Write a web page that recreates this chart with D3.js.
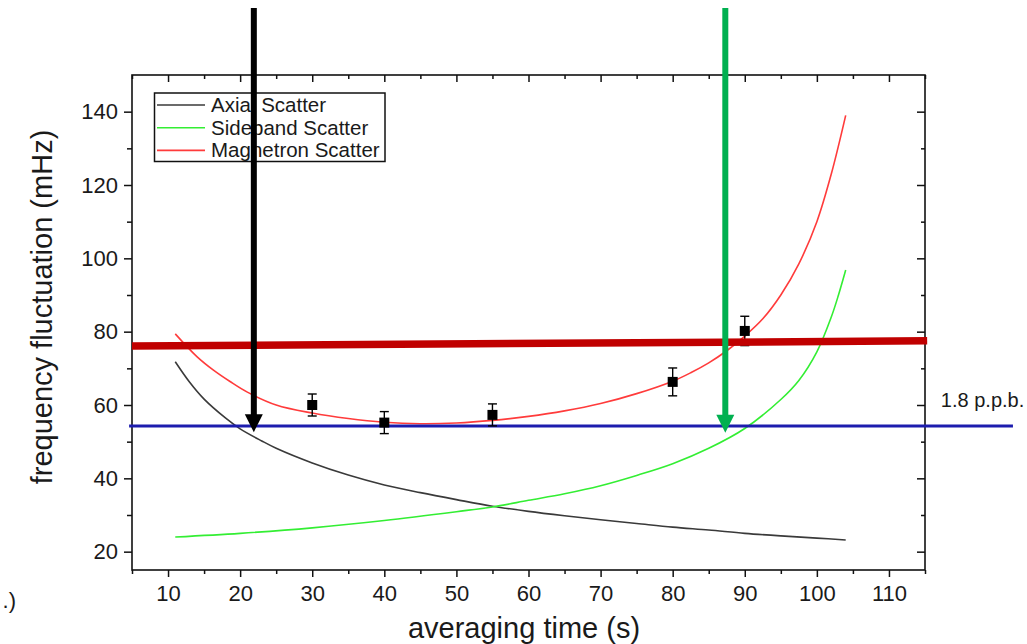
<!DOCTYPE html>
<html><head><meta charset="utf-8">
<script src="https://cdn.jsdelivr.net/npm/d3@7"></script>
<style>
body{margin:0;background:#fff}
svg{display:block}
text{font-family:"Liberation Sans",Arial,sans-serif;fill:#1a1a1a}
</style>
</head><body>
<svg id="chart" width="1027" height="644"></svg>
<script>
// ---------- data ----------
const axialT = [11, 13, 15, 18, 20, 23, 25, 30, 35, 40, 45, 50, 55, 60, 65, 70, 75, 80, 85, 90, 95, 100, 104];
const axialV = [71.8, 66.2, 61.6, 56.4, 53.5, 50.2, 48.2, 44.2, 40.9, 38.2, 36.1, 34.2, 32.4, 31, 29.8, 28.7, 27.7, 26.7, 25.9, 25, 24.3, 23.7, 23.2];

const sideT = [11, 20, 30, 40, 50, 55, 60, 65, 70, 75, 80, 85, 90, 95, 97.5, 100, 102, 103, 104];
const sideV = [24, 25, 26.5, 28.5, 30.9, 32.2, 34, 35.8, 38, 40.8, 44, 48.2, 53.6, 61.5, 66.7, 74.5, 84, 90, 96.8];

const magT = [11, 14, 16.3, 18.6, 21, 25, 30, 35, 40, 45, 50, 55, 60, 65, 70, 75, 80, 82.5, 85, 87.5, 90, 92.5, 95, 97.5, 100, 102, 104];
const magV = [79.4, 73.2, 69.5, 66.4, 63.5, 60, 57.8, 56.3, 55.3, 54.9, 55.1, 55.8, 56.9, 58.4, 60.4, 63.1, 66.5, 68.8, 71.5, 74.8, 78.8, 83.5, 90, 98.5, 110, 123, 139];

const pointT = [30, 40, 55, 80, 90];
const pointV = [60, 55.2, 57.3, 66.3, 80.2];
const pointErr = [3, 3, 3, 3.8, 4];

const seriesNames = ["Axial Scatter", "Sideband Scatter", "Magnetron Scatter"];
const seriesColors = ["#3a3a3a", "#33ee33", "#ff3b3b"];

const xMajorTicks = [10, 20, 30, 40, 50, 60, 70, 80, 90, 100, 110];
const xMinorTicks = [5, 15, 25, 35, 45, 55, 65, 75, 85, 95, 105, 115];
const yMajorTicks = [20, 40, 60, 80, 100, 120, 140];
const yMinorTicks = [30, 50, 70, 90, 110, 130];

// annotation lines (data units)
const thickLineT = [5, 115.3];
const thickLineV = [76.1, 77.5];
const blueLineT = [4.6, 127.2];
const blueLineV = [54.3, 54.3];
const ppbLabel = "1.8 p.p.b.";
const ppbPos = [117.2, 59.5];
const arrowT = [21.9, 87.3];
const arrowTop = [168.3, 168.3];
const arrowTip = [52.6, 52.4];
const arrowColors = ["#000000", "#00b050"];

// ---------- layout ----------
const svg = d3.select("#chart");
const mLeft = 132, mRight = 925, mTop = 75, mBottom = 570;
const x = d3.scaleLinear().domain([5, 115]).range([mLeft, mRight]);
const y = d3.scaleLinear().domain([15, 150]).range([mBottom, mTop]);

// ---------- axes ----------
const axisG = svg.append("g");
function styleAxis(g){
  g.select(".domain").remove();
  g.selectAll(".tick line").attr("stroke", "#111").attr("stroke-width", 1.5);
}
const FONT = '"Liberation Sans",Arial,sans-serif';
// bottom
axisG.append("g").attr("transform", `translate(0,${mBottom})`)
  .call(d3.axisBottom(x).tickValues(xMajorTicks).tickSize(7).tickPadding(8).tickFormat(d3.format("d")))
  .call(styleAxis)
  .call(g => g.selectAll("text").attr("font-size", 22).attr("font-family", FONT).attr("fill", "#1a1a1a"));
axisG.append("g").attr("transform", `translate(0,${mBottom})`)
  .call(d3.axisBottom(x).tickValues(xMinorTicks).tickSize(4).tickFormat(""))
  .call(styleAxis);
// top (inward)
axisG.append("g").attr("transform", `translate(0,${mTop})`)
  .call(d3.axisBottom(x).tickValues(xMajorTicks).tickSize(7).tickFormat(""))
  .call(styleAxis);
axisG.append("g").attr("transform", `translate(0,${mTop})`)
  .call(d3.axisBottom(x).tickValues(xMinorTicks).tickSize(4).tickFormat(""))
  .call(styleAxis);
// left
axisG.append("g").attr("transform", `translate(${mLeft},0)`)
  .call(d3.axisLeft(y).tickValues(yMajorTicks).tickSize(8).tickPadding(6).tickFormat(d3.format("d")))
  .call(styleAxis)
  .call(g => g.selectAll("text").attr("font-size", 22).attr("font-family", FONT).attr("fill", "#1a1a1a"));
axisG.append("g").attr("transform", `translate(${mLeft},0)`)
  .call(d3.axisLeft(y).tickValues(yMinorTicks).tickSize(5).tickFormat(""))
  .call(styleAxis);
// right (inward)
axisG.append("g").attr("transform", `translate(${mRight},0)`)
  .call(d3.axisLeft(y).tickValues(yMajorTicks).tickSize(8).tickFormat(""))
  .call(styleAxis);
axisG.append("g").attr("transform", `translate(${mRight},0)`)
  .call(d3.axisLeft(y).tickValues(yMinorTicks).tickSize(4).tickFormat(""))
  .call(styleAxis);
// frame
svg.append("rect").attr("x", mLeft).attr("y", mTop).attr("width", mRight - mLeft).attr("height", mBottom - mTop)
  .attr("fill", "none").attr("stroke", "#111").attr("stroke-width", 1.6);

// ---------- titles ----------
svg.append("text").attr("x", 524).attr("y", 638)
  .attr("text-anchor", "middle").attr("font-size", 29).text("averaging time (s)");
svg.append("text").attr("transform", `translate(52,307) rotate(-90)`)
  .attr("text-anchor", "middle").attr("font-size", 29).text("frequency fluctuation (mHz)");
svg.append("text").attr("x", 16).attr("y", 608).attr("text-anchor", "end").attr("font-size", 22).text(".)");

// ---------- curves ----------
const line = d3.line().x(d => x(d[0])).y(d => y(d[1])).curve(d3.curveCatmullRom.alpha(0.5));
const curves = [
  d3.zip(axialT, axialV),
  d3.zip(sideT, sideV),
  d3.zip(magT, magV)
];
const plotG = svg.append("g");
curves.forEach((c, i) => {
  plotG.append("path").datum(c).attr("d", line)
    .attr("fill", "none").attr("stroke", seriesColors[i]).attr("stroke-width", 1.6);
});

// ---------- reference lines ----------
const straight = d3.line().x(d => x(d[0])).y(d => y(d[1]));
plotG.append("path").datum(d3.zip(blueLineT, blueLineV)).attr("d", straight)
  .attr("stroke", "#1c1cae").attr("stroke-width", 3).attr("fill", "none");

// ---------- data points with error bars ----------
const pts = pointT.map((t, i) => ({t, v: pointV[i], e: pointErr[i]}));
const ptG = plotG.append("g");
pts.forEach(p => {
  const cx = x(p.t);
  ptG.append("line").attr("x1", cx).attr("x2", cx).attr("y1", y(p.v + p.e)).attr("y2", y(p.v - p.e))
    .attr("stroke", "#000").attr("stroke-width", 1.4);
  [p.v + p.e, p.v - p.e].forEach(v => {
    ptG.append("line").attr("x1", cx - 4.5).attr("x2", cx + 4.5).attr("y1", y(v)).attr("y2", y(v))
      .attr("stroke", "#000").attr("stroke-width", 1.4);
  });
  ptG.append("rect").attr("x", cx - 5).attr("y", y(p.v) - 5).attr("width", 10).attr("height", 10).attr("fill", "#000");
});

plotG.append("path").datum(d3.zip(thickLineT, thickLineV)).attr("d", straight)
  .attr("stroke", "#c00000").attr("stroke-width", 7.5).attr("fill", "none");

// ---------- legend ----------
const lg = svg.append("g");
lg.append("rect").attr("x", 154.5).attr("y", 93).attr("width", 230.5).attr("height", 68.5)
  .attr("fill", "#fff").attr("stroke", "#111").attr("stroke-width", 1.5);
seriesNames.forEach((n, i) => {
  const yy = 105 + i * 22.7;
  lg.append("line").attr("x1", 157).attr("x2", 205).attr("y1", yy).attr("y2", yy)
    .attr("stroke", seriesColors[i]).attr("stroke-width", 1.6);
  lg.append("text").attr("x", 211).attr("y", yy + 7).attr("font-size", 20.5).text(n);
});

// ---------- label ----------
svg.append("text").attr("x", x(ppbPos[0])).attr("y", y(ppbPos[1])).attr("font-size", 20).text(ppbLabel);

// ---------- arrows ----------
const headLen = 18, headHalf = 9;
arrowT.forEach((t, i) => {
  const ax = x(t), yTop = y(arrowTop[i]), yTip = y(arrowTip[i]);
  svg.append("line").attr("x1", ax).attr("x2", ax).attr("y1", yTop).attr("y2", yTip - headLen + 2)
    .attr("stroke", arrowColors[i]).attr("stroke-width", 6);
  svg.append("path")
    .attr("d", `M${ax - headHalf},${yTip - headLen}L${ax + headHalf},${yTip - headLen}L${ax},${yTip}Z`)
    .attr("fill", arrowColors[i]);
});
</script>
</body></html>
